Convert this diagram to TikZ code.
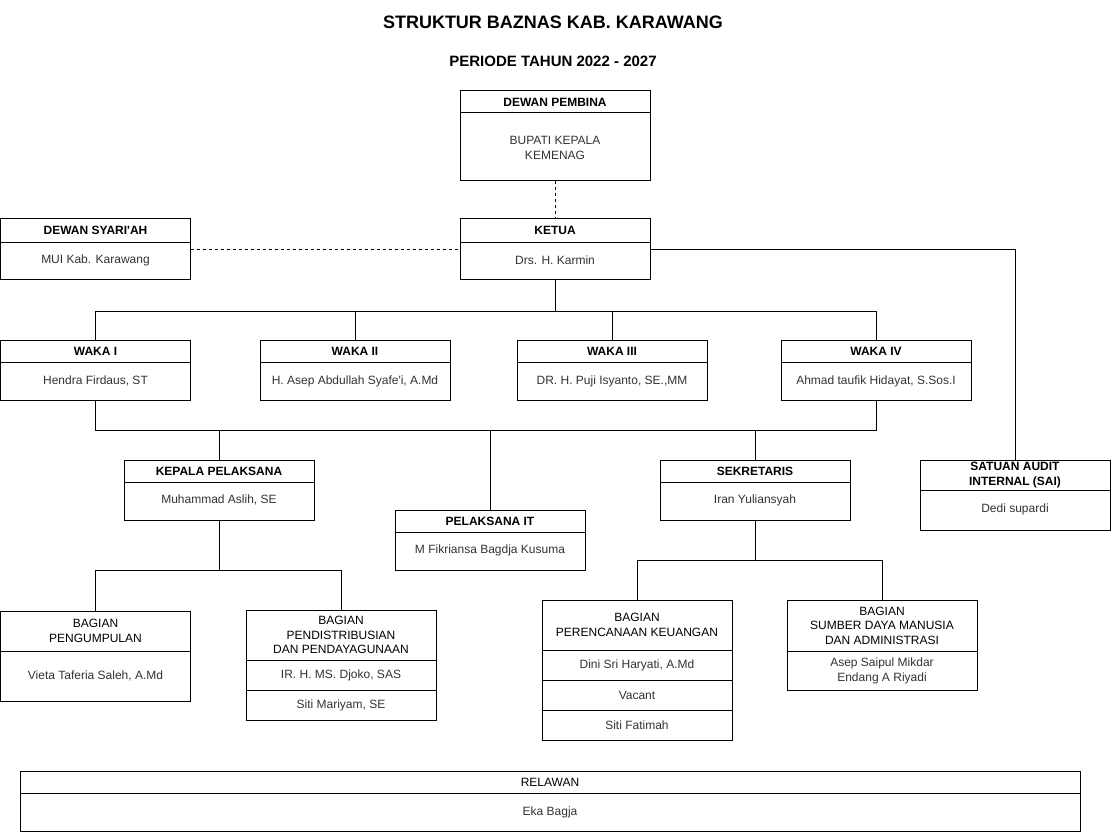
\documentclass[tikz,border=0pt]{standalone}
\usepackage{fontspec}
\setmainfont{Liberation Sans}
\definecolor{bodygray}{HTML}{333333}
\tikzset{
  frame/.style={draw=black, line width=1pt, inner sep=0pt, outer sep=0pt, rectangle},
  divline/.style={draw=black, line width=1pt},
  headtxt/.style={font=\fontsize{12}{14.5}\selectfont\bfseries, align=center, inner sep=0pt, text=black},
  headreg/.style={font=\fontsize{12}{14.5}\selectfont, align=center, inner sep=0pt, text=black},
  bodytxt/.style={font=\fontsize{12}{15}\selectfont, align=center, inner sep=0pt, text=bodygray},
  titletxt/.style={font=\fontsize{18}{20}\selectfont\bfseries, inner sep=0pt, text=black},
  subtitletxt/.style={font=\fontsize{15}{17}\selectfont\bfseries, inner sep=0pt, text=black},
  conn/.style={draw=black, line width=1pt},
  dconn/.style={draw=black, line width=1pt, dash pattern=on 3pt off 3pt},
}
% #1 name, #2 left, #3 top, #4 width, #5 height, #6 header height, #7 header style, #8 header text
\newcommand{\obox}[8]{%
  \node[frame, minimum width=#4pt, minimum height=#5pt] (#1) at ({#2+#4/2},{#3+#5/2}) {};
  \node[#7] (#1-h) at ({#2+#4/2},{#3+#6/2}) {#8};
  \draw[divline] ({#2},{#3+#6}) -- ({#2+#4},{#3+#6});
}
\begin{document}
\begin{tikzpicture}[x=1pt,y=-1pt]
\useasboundingbox[fill=white] (0,0) rectangle (1112,832);

% titles
\node[titletxt] (title) at (553,22) {STRUKTUR BAZNAS KAB. KARAWANG};
\node[subtitletxt] (period) at (553,61) {PERIODE TAHUN 2022 - 2027};

% top level
\obox{dp}{460}{91}{190}{90}{22}{headtxt}{DEWAN PEMBINA}
\node[bodytxt] (dp-b) at (555,147.5) {BUPATI KEPALA\\KEMENAG};

\obox{ketua}{460}{219}{190}{60}{23}{headtxt}{KETUA}
\node[bodytxt] (ketua-b) at (555,260) {Drs. H. Karmin};

\obox{dsy}{0.5}{219}{190}{60}{23}{headtxt}{DEWAN SYARI\textquotesingle AH}
\node[bodytxt] (dsy-b) at (95.5,260) {MUI Kab. Karawang};

% waka
\obox{waka1}{0.5}{340}{190}{60}{22}{headtxt}{WAKA I}
\node[bodytxt] (waka1-b) at (95.5,381) {Hendra Firdaus, ST};
\obox{waka2}{260}{340}{190}{60}{22}{headtxt}{WAKA II}
\node[bodytxt] (waka2-b) at (355,381) {H. Asep Abdullah Syafe\textquotesingle i, A.Md};
\obox{waka3}{517}{340}{190}{60}{22}{headtxt}{WAKA III}
\node[bodytxt] (waka3-b) at (612,381) {DR. H. Puji Isyanto, SE.,MM};
\obox{waka4}{781}{340}{190}{60}{22}{headtxt}{WAKA IV}
\node[bodytxt] (waka4-b) at (876,381) {Ahmad taufik Hidayat, S.Sos.I};

% middle row
\obox{kp}{124}{460}{190}{60}{22}{headtxt}{KEPALA PELAKSANA}
\node[bodytxt] (kp-b) at (219,500) {Muhammad Aslih, SE};
\obox{pit}{395}{510}{190}{60}{22}{headtxt}{PELAKSANA IT}
\node[bodytxt] (pit-b) at (490,550) {M Fikriansa Bagdja Kusuma};
\obox{sek}{660}{460}{190}{60}{22}{headtxt}{SEKRETARIS}
\node[bodytxt] (sek-b) at (755,500) {Iran Yuliansyah};
\obox{sai}{920}{460}{190}{70}{30}{headtxt}{SATUAN AUDIT\\INTERNAL (SAI)}
\node[bodytxt] (sai-b) at (1015,509) {Dedi supardi};

% bagian
\obox{bp1}{0.5}{611}{190}{90}{40}{headreg}{BAGIAN\\PENGUMPULAN}
\node[bodytxt] (bp1-b) at (95.5,676) {Vieta Taferia Saleh, A.Md};

\obox{bp2}{246}{610}{190}{110}{50}{headreg}{BAGIAN\\PENDISTRIBUSIAN\\DAN PENDAYAGUNAAN}
\node[bodytxt] (bp2-r1) at (341,675) {IR. H. MS. Djoko, SAS};
\draw[divline] (246,690) -- (436,690);
\node[bodytxt] (bp2-r2) at (341,705) {Siti Mariyam, SE};

\obox{bp3}{542}{600}{190}{140}{50}{headreg}{BAGIAN\\PERENCANAAN KEUANGAN}
\node[bodytxt] (bp3-r1) at (637,665) {Dini Sri Haryati, A.Md};
\draw[divline] (542,680) -- (732,680);
\node[bodytxt] (bp3-r2) at (637,695) {Vacant};
\draw[divline] (542,710) -- (732,710);
\node[bodytxt] (bp3-r3) at (637,725) {Siti Fatimah};

\obox{bp4}{787}{600}{190}{90}{51}{headreg}{BAGIAN\\SUMBER DAYA MANUSIA\\DAN ADMINISTRASI}
\node[bodytxt] (bp4-b) at (882,670.5) {Asep Saipul Mikdar\\Endang A Riyadi};

% relawan
\obox{rel}{20}{771}{1060}{60}{22}{headreg}{RELAWAN}
\node[bodytxt] (rel-b) at (550,812) {Eka Bagja};

% connectors
\coordinate (busA) at (0,311);
\coordinate (busB) at (0,430);
\coordinate (busC) at (0,570);
\coordinate (busD) at (0,560);

\draw[dconn] (dp.south) -- (ketua.north);
\draw[dconn] (dsy.east) -- (ketua.west);
\draw[conn] (ketua.east) -| (sai.north);

\draw[conn] (ketua.south) -- (ketua.south |- busA);
\draw[conn] (waka1.north) -- (waka1.north |- busA) -- (waka4.north |- busA) -- (waka4.north);
\draw[conn] (waka2.north) -- (waka2.north |- busA);
\draw[conn] (waka3.north) -- (waka3.north |- busA);

\draw[conn] (waka1.south) -- (waka1.south |- busB) -- (waka4.south |- busB) -- (waka4.south);
\draw[conn] (kp.north) -- (kp.north |- busB);
\draw[conn] (pit.north) -- (pit.north |- busB);
\draw[conn] (sek.north) -- (sek.north |- busB);

\draw[conn] (kp.south) -- (kp.south |- busC);
\draw[conn] (bp1.north) -- (bp1.north |- busC) -- (bp2.north |- busC) -- (bp2.north);

\draw[conn] (sek.south) -- (sek.south |- busD);
\draw[conn] (bp3.north) -- (bp3.north |- busD) -- (bp4.north |- busD) -- (bp4.north);
\end{tikzpicture}
\end{document}
